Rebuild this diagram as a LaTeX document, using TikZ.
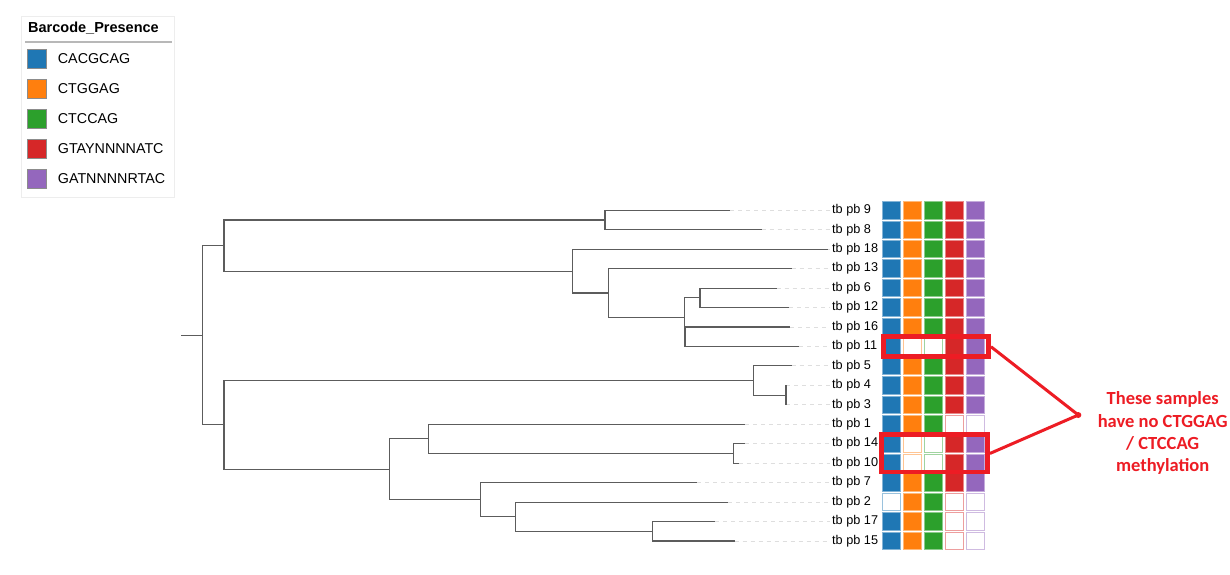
\documentclass[tikz,border=0pt]{standalone}
\usepackage{fontspec}
\setmainfont{Liberation Sans}
\newfontfamily\notefont{Carlito}
\usetikzlibrary{positioning}
\definecolor{bc1}{HTML}{1F77B4}
\definecolor{bc2}{HTML}{FF7F0E}
\definecolor{bc3}{HTML}{2CA02C}
\definecolor{bc4}{HTML}{D62728}
\definecolor{bc5}{HTML}{9467BD}
\definecolor{hlred}{HTML}{ED1C24}
\definecolor{branch}{HTML}{5C5C5C}

\begin{document}
\begin{tikzpicture}[x=1pt,y=-1pt,
  br/.style={branch,line width=1.1pt},
  lead/.style={black!13,line width=0.9pt,dash pattern=on 4pt off 4pt},
  lab/.style={anchor=west,inner sep=2pt,font=\fontsize{12.7}{14}\selectfont},
  cellbox/.style={rectangle,line width=1pt,minimum width=18pt,minimum height=17.4pt,inner sep=0pt},
  cell1/.style={fill=#1,draw=#1!55!white},
  cell0/.style={fill=white,draw=#1!45!white},
  hl/.style={draw=hlred,line width=4.5pt,inner sep=0pt},
  callout/.style={hlred,line width=3pt},
  note/.style={align=center,text=hlred,font=\notefont\bfseries\fontsize{18.5}{22.3}\selectfont},
  legsq/.style={draw=black!45,line width=1.2pt,minimum size=18.8pt,inner sep=0pt},
  legtxt/.style={inner sep=0pt,font=\fontsize{14.3}{16}\selectfont}]
  \useasboundingbox (0,0) rectangle (1230,574);
  \fill[white] (0,0) rectangle (1230,574);

  % legend
  \draw[black!7,line width=0.8pt] (21.7,16) rectangle (174.3,197.3);
  \node[anchor=west,inner sep=0pt,font=\bfseries\fontsize{14.5}{16}\selectfont] (legtitle) at (28,28.3) {Barcode\_Presence};
  \draw[black!28,line width=2pt] (25,41.7) -- (172,41.7);
  \foreach \seq [count=\k] in {CACGCAG,CTGGAG,CTCCAG,GTAYNNNNATC,GATNNNNRTAC}{
    \node[legsq,fill=bc\k] (sq\k) at (36.7,{29+30*\k}) {};
    \node[legtxt,right=11pt of sq\k] (lt\k) {\seq};
  }

  % leaves, labels and leaders
  \foreach \name/\tip [count=\i from 0] in {9/730.3,8/761.7,18/828,13/791.7,6/776.7,12/789,16/790,11/799.3,5/791.7,4/786,3/786,1/745,14/745,10/738.7,7/697,2/728.3,17/715,15/734.7}{
    \coordinate (t\name) at (\tip,{210.3+19.45*\i});
    \node[lab] (l\name) at (830,{210.3+19.45*\i}) {tb pb \name};
    \draw[lead] (t\name) -- (l\name.west);
  }

  % internal nodes
  \coordinate (stub) at (181,335.2);
  \coordinate (root) at (202.3,335.2);
  \coordinate (nA) at (224,245.55);
  \coordinate (nA1) at (605,220.03);
  \coordinate (nA2) at (572.3,271.08);
  \coordinate (nA3) at (608.7,292.96);
  \coordinate (nA4) at (684.3,317.28);
  \coordinate (nA5) at (700,297.83);
  \coordinate (nA6) at (685,336.73);
  \coordinate (nB) at (224,424.86);
  \coordinate (nB1) at (753.7,380.49);
  \coordinate (nB2) at (786,395.08);
  \coordinate (nB3) at (389.7,469.23);
  \coordinate (nB4) at (428.3,438.84);
  \coordinate (nB5) at (733.3,453.43);
  \coordinate (nB6) at (480.7,499.62);
  \coordinate (nB7) at (515.3,516.64);
  \coordinate (nB8) at (652.7,531.23);

  % branches
  \draw[br] (stub) -- (root);
  \foreach \p/\c in {root/nA,root/nB,nA/nA1,nA/nA2,nA1/t9,nA1/t8,nA2/t18,nA2/nA3,nA3/t13,nA3/nA4,
    nA4/nA5,nA4/nA6,nA5/t6,nA5/t12,nA6/t16,nA6/t11,nB/nB1,nB/nB3,nB1/t5,nB1/nB2,nB2/t4,nB2/t3,
    nB3/nB4,nB3/nB6,nB4/t1,nB4/nB5,nB5/t14,nB5/t10,nB6/t7,nB6/nB7,nB7/t2,nB7/nB8,nB8/t17,nB8/t15}
    \draw[br] (\p) |- (\c);

  % presence grid
  \foreach \name/\bits [count=\i from 0] in {9/{1,1,1,1,1},8/{1,1,1,1,1},18/{1,1,1,1,1},13/{1,1,1,1,1},
    6/{1,1,1,1,1},12/{1,1,1,1,1},16/{1,1,1,1,1},11/{1,0,0,1,1},5/{1,1,1,1,1},4/{1,1,1,1,1},
    3/{1,1,1,1,1},1/{1,1,1,0,0},14/{1,0,0,1,1},10/{1,0,0,1,1},7/{1,1,1,1,1},2/{0,1,1,0,0},
    17/{1,1,1,0,0},15/{1,1,1,0,0}}{
    \foreach \b [count=\j] in \bits
      \node[cellbox,cell\b=bc\j] (c\name-\j) at ({891.8+20.8*(\j-1)},{210.3+19.45*\i}) {};
  }

  % highlight and note
  \node[hl,minimum width=105.4pt,minimum height=20pt] (hl11) at (936,346.7) {};
  \node[hl,minimum width=106pt,minimum height=37.5pt] (hl14) at (934.7,453.45) {};
  \coordinate (tip) at (1078.3,415);
  \draw[callout] (hl11.east) -- (tip);
  \draw[callout] (hl14.east) -- (tip);
  \fill[hlred] (tip) circle (3pt);
  \node[note] (note) at (1162.7,433.4) {These samples\\have no CTGGAG\\/ CTCCAG\\methylation};
\end{tikzpicture}
\end{document}
